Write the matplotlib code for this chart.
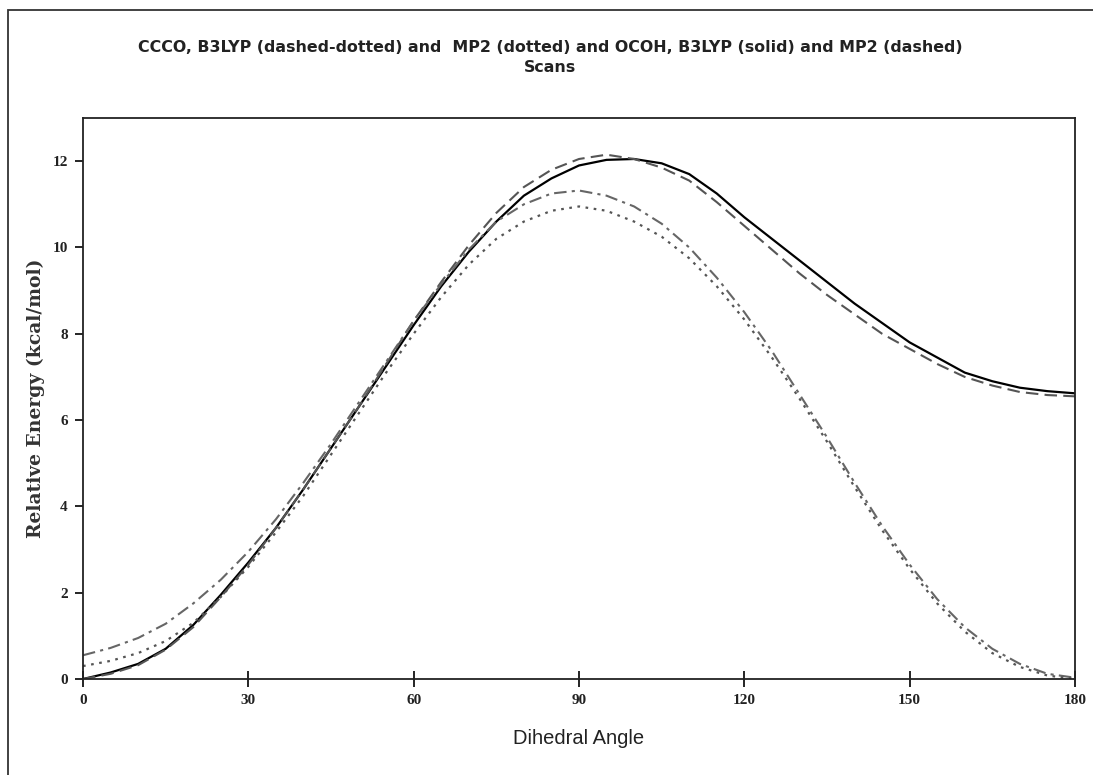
import matplotlib
matplotlib.use("Agg")
import matplotlib.pyplot as plt
from matplotlib.patches import Rectangle

angles = [0, 5, 10, 15, 20, 25, 30, 35, 40, 45, 50, 55, 60, 65, 70, 75, 80, 85, 90,
          95, 100, 105, 110, 115, 120, 125, 130, 135, 140, 145, 150, 155, 160, 165, 170, 175, 180]
ccco_b3lyp = [0.55, 0.72, 0.95, 1.28, 1.75, 2.3, 2.95, 3.7, 4.55, 5.45, 6.4, 7.35, 8.3, 9.15, 9.95,
              10.6, 11.0, 11.25, 11.32, 11.2, 10.95, 10.55, 10.0, 9.3, 8.5, 7.6, 6.6, 5.6, 4.55,
              3.55, 2.65, 1.85, 1.2, 0.7, 0.35, 0.12, 0.03]
ccco_mp2 = [0.3, 0.42, 0.6, 0.88, 1.3, 1.9, 2.6, 3.4, 4.25, 5.2, 6.15, 7.1, 8.0, 8.85, 9.6,
            10.2, 10.6, 10.85, 10.95, 10.85, 10.6, 10.25, 9.75, 9.1, 8.33, 7.45, 6.5, 5.5, 4.45,
            3.45, 2.55, 1.75, 1.1, 0.6, 0.28, 0.08, 0.0]
ocoh_b3lyp = [0.0, 0.15, 0.35, 0.7, 1.25, 1.95, 2.7, 3.5, 4.4, 5.35, 6.3, 7.25, 8.2, 9.1, 9.9,
              10.6, 11.2, 11.6, 11.9, 12.03, 12.05, 11.95, 11.7, 11.25, 10.7, 10.2, 9.7, 9.2,
              8.7, 8.25, 7.8, 7.45, 7.1, 6.9, 6.75, 6.67, 6.62]
ocoh_mp2 = [0.0, 0.12, 0.32, 0.68, 1.2, 1.9, 2.65, 3.5, 4.4, 5.35, 6.3, 7.3, 8.3, 9.2, 10.05,
            10.8, 11.4, 11.8, 12.05, 12.15, 12.05, 11.85, 11.55, 11.05, 10.5, 9.95, 9.4, 8.9,
            8.45, 8.0, 7.65, 7.3, 7.0, 6.8, 6.65, 6.58, 6.55]

xticks = [0, 30, 60, 90, 120, 150, 180]
yticks = [0, 2, 4, 6, 8, 10, 12]

W, H = 1093, 775
fig = plt.figure(figsize=(W / 100, H / 100), dpi=100)
fig.patch.set_facecolor("white")

# outer frame
fig.patches.append(Rectangle((8 / W, -0.1), 1.2, 1 - 10 / H + 0.1, transform=fig.transFigure,
                             fill=False, edgecolor="#333333", linewidth=1.3))

left, right, top, bottom = 83, 1075, 118, 679
ax = fig.add_axes([left / W, 1 - bottom / H, (right - left) / W, (bottom - top) / H])

ax.plot(angles, ocoh_b3lyp, color="black", linewidth=1.6, linestyle="-")
ax.plot(angles, ocoh_mp2, color="#555555", linewidth=1.5, linestyle=(0, (6, 3)))
ax.plot(angles, ccco_b3lyp, color="#666666", linewidth=1.5, linestyle=(0, (6, 2.5, 1.5, 2.5)))
ax.plot(angles, ccco_mp2, color="#555555", linewidth=1.6, linestyle=(0, (1.2, 2.5)))

ax.set_xlim(0, 180)
ax.set_ylim(0, 13)
ax.set_xticks(xticks)
ax.set_yticks(yticks)
for s in ax.spines.values():
    s.set_linewidth(1.3)
    s.set_color("#222222")
ax.tick_params(axis="x", direction="inout", length=12, width=1.2, pad=5)
ax.tick_params(axis="y", direction="out", length=6, width=1.2, pad=5)
for lab in ax.get_xticklabels() + ax.get_yticklabels():
    lab.set_fontfamily("Liberation Serif")
    lab.set_fontweight("bold")
    lab.set_fontsize(11)
    lab.set_color("#222222")

ax.set_xlabel("Dihedral Angle", fontfamily="Liberation Sans", fontsize=14.5, labelpad=16,
              color="#222222")
ax.set_ylabel("Relative Energy (kcal/mol)", fontfamily="DejaVu Serif", fontweight="bold",
              fontsize=13.5, labelpad=5, color="#333333")

title1 = "CCCO, B3LYP (dashed-dotted) and  MP2 (dotted) and OCOH, B3LYP (solid) and MP2 (dashed)"
fig.text(550 / W, 1 - 47 / H, title1, ha="center", va="center", fontfamily="DejaVu Sans",
         fontweight="bold", fontsize=11.4, color="#222222")
fig.text(550 / W, 1 - 67 / H, "Scans", ha="center", va="center",
         fontfamily="DejaVu Sans", fontweight="bold", fontsize=11.4, color="#222222")

fig.savefig("out.png", dpi=100)
